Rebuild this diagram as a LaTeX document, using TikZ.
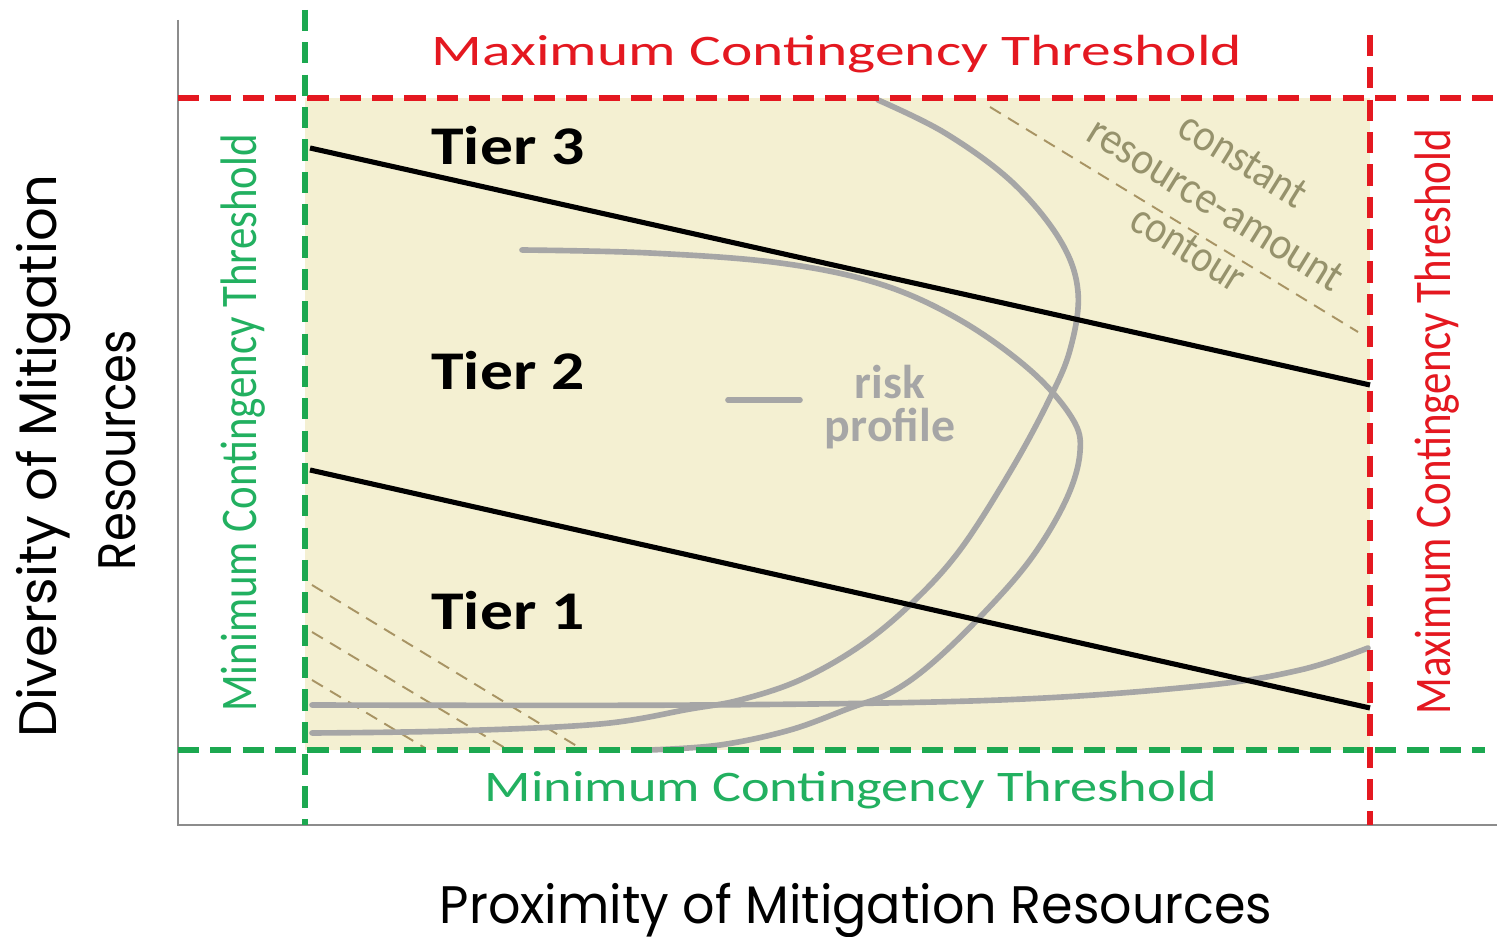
\documentclass[tikz,border=0pt]{standalone}
\usepackage{fontspec}
\usepackage{graphicx}
\setmainfont{Carlito}
\newfontfamily\axisfont{Poppins}
\definecolor{thrred}{RGB}{228,24,32}
\definecolor{thrgreen}{RGB}{28,168,80}
\definecolor{txtgreen}{RGB}{34,176,96}
\definecolor{beige}{RGB}{244,240,210}
\definecolor{axisgray}{RGB}{140,140,140}
\definecolor{riskgray}{RGB}{166,166,166}
\definecolor{khaki}{RGB}{168,148,100}
\definecolor{khakitxt}{RGB}{150,146,108}
\newcommand\fw[2]{\resizebox{#1}{\height}{#2}}
\tikzset{
  thr/.style={line width=1.45pt, dash pattern=on 6pt off 3.2pt},
  redthr/.style={thr, draw=thrred},
  greenthr/.style={thr, draw=thrgreen},
  tierline/.style={line width=1.45pt, draw=black},
  riskline/.style={line width=1.6pt, draw=riskgray, line cap=round},
  contourline/.style={line width=0.55pt, draw=khaki, dash pattern=on 3.6pt off 2.4pt},
  axisline/.style={line width=0.85pt, draw=axisgray},
  lbl/.style={inner sep=0pt, anchor=base},
}
\begin{document}
\begin{tikzpicture}[x=0.01cm, y=-0.01cm]
\useasboundingbox (0,0) rectangle (1502,937);
% feasible region
\fill[beige] (305,98) rectangle (1370,750);
% constant resource-amount contours
\draw[contourline] (990,107) -- (1358,332);
\draw[contourline] (312,585) -- (580,748);
\draw[contourline] (312,632) -- (505,748);
\draw[contourline] (312,680) -- (425,748);
% risk profiles
\draw[riskline] plot[smooth, tension=0.6] coordinates {(878,100) (945,133) (1012,182) (1060,240) (1078,292) (1070,350) (1048,402) (1010,472) (960,550) (912,603) (860,646) (800,680) (740,700) (690,709) (600,724) (450,731) (312,733)};
\draw[riskline] plot[smooth, tension=0.6] coordinates {(522,250) (650,253) (780,263) (880,284) (960,320) (1030,370) (1072,418) (1080,452) (1066,500) (1030,560) (980,617) (930,665) (890,693) (850,708) (790,730) (720,745) (650,750)};
\draw[riskline] plot[smooth, tension=0.6] coordinates {(312,705) (700,705) (1000,700) (1200,686) (1300,670) (1368,648)};
\draw[riskline] (728,400) -- (800,400);
% tier boundaries
\coordinate (t3a) at (310,148);
\coordinate (t3b) at (1370,385);
\coordinate (t1a) at (310,470);
\coordinate (t1b) at (1370,708);
\draw[tierline] (t3a) -- (t3b);
\draw[tierline] (t1a) -- (t1b);
% axes
\coordinate (origin) at (178,825);
\coordinate (ytop) at (178,20);
\coordinate (xend) at (1497,825);
\draw[axisline] (ytop) -- (origin) -- (xend);
% thresholds
\draw[redthr] (178,98) -- (1497,98);
\draw[redthr] (1370,35) -- (1370,825);
\draw[greenthr] (178,750) -- (1485,750);
\draw[greenthr] (305,10) -- (305,825);
% threshold labels
\node[lbl, text=thrred] (maxtop) at (837,66) {\fw{8.10cm}{\fontsize{12.4}{14}\selectfont Maximum Contingency Threshold}};
\node[lbl, text=txtgreen] (minbot) at (851,802) {\fw{7.32cm}{\fontsize{12.4}{14}\selectfont Minimum Contingency Threshold}};
\node[lbl, text=txtgreen, rotate=90] (minleft) at (256,423) {\fw{5.77cm}{\fontsize{14.6}{16}\selectfont Minimum Contingency Threshold}};
\node[lbl, text=thrred, rotate=90] (maxright) at (1450,422) {\fw{5.85cm}{\fontsize{14.6}{16}\selectfont Maximum Contingency Threshold}};
% tiers
\node[lbl] (tier3) at (508,165) {\fw{1.53cm}{\fontsize{15.5}{17}\selectfont\bfseries Tier 3}};
\node[lbl] (tier2) at (508,390) {\fw{1.53cm}{\fontsize{15.5}{17}\selectfont\bfseries Tier 2}};
\node[lbl] (tier1) at (508,630) {\fw{1.53cm}{\fontsize{15.5}{17}\selectfont\bfseries Tier 1}};
% risk profile legend
\node[lbl, text=riskgray] (risk) at (890,399) {\fw{0.70cm}{\fontsize{13.5}{15}\selectfont\bfseries risk}};
\node[lbl, text=riskgray] (profile) at (890,442) {\fw{1.30cm}{\fontsize{13.5}{15}\selectfont\bfseries profile}};
% contour label
\node[inner sep=0pt, text=khakitxt, rotate=-31.8, align=center, font=\fontsize{13}{14.8}\selectfont] (contourlbl) at (1216,204) {\fw{1.42cm}{constant}\\\fw{2.92cm}{resource-amount}\\\fw{1.26cm}{contour}};
% axis titles
\node[lbl] (xtitle) at (856,923) {\fw{8.32cm}{\fontsize{15}{17}\selectfont\axisfont Proximity of Mitigation Resources}};
\node[lbl, rotate=90] (ytitle1) at (57,456) {\fw{5.63cm}{\fontsize{15}{17}\selectfont\axisfont Diversity of Mitigation}};
\node[lbl, rotate=90] (ytitle2) at (135,450) {\fw{2.40cm}{\fontsize{15}{17}\selectfont\axisfont Resources}};
\end{tikzpicture}
\end{document}
